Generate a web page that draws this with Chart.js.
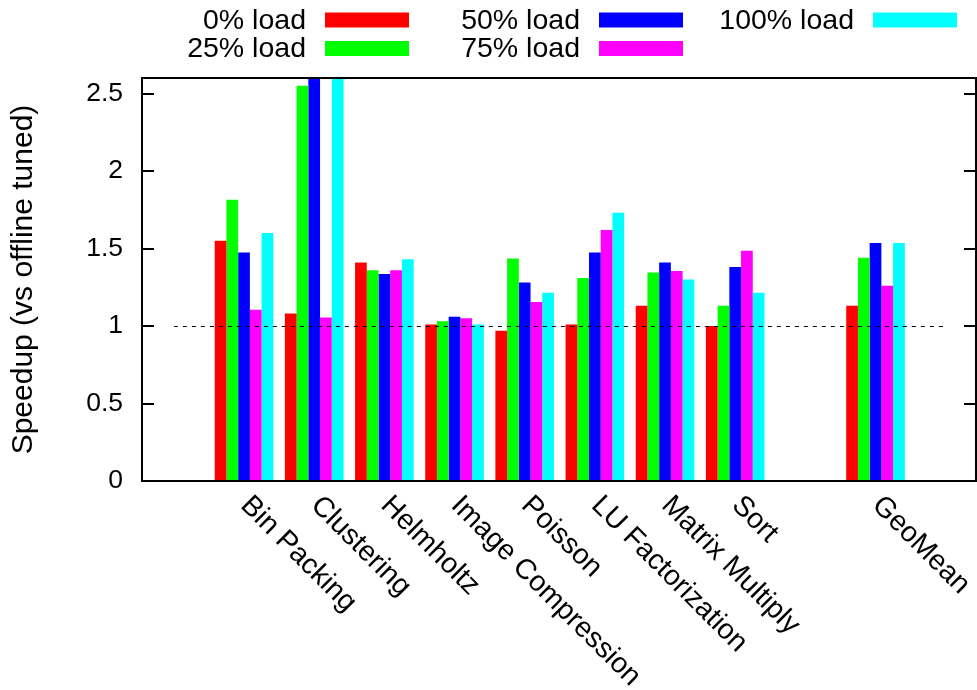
<!DOCTYPE html>
<html>
<head>
<meta charset="utf-8">
<script src="https://cdn.jsdelivr.net/npm/chart.js@4.4.1/dist/chart.umd.min.js"></script>
<style>
  html, body { margin: 0; padding: 0; background: #fff; }
  canvas { display: block; }
</style>
</head>
<body>
<canvas id="myChart" width="977" height="690" style="width:977px;height:690px"></canvas>
<script>
// benchmark names, '' is the spacer slot before GeoMean
const categories = ['Bin Packing', 'Clustering', 'Helmholtz', 'Image Compression', 'Poisson',
  'LU Factorization', 'Matrix Multiply', 'Sort', '', 'GeoMean'];
const seriesNames = ['0% load', '25% load', '50% load', '75% load', '100% load'];
const load0   = [1.55, 1.08, 1.41, 1.01, 0.97, 1.01, 1.13, 1.00, null, 1.13];
const load25  = [1.815, 2.55, 1.36, 1.03, 1.435, 1.31, 1.345, 1.13, null, 1.44];
const load50  = [1.475, 2.8, 1.335, 1.06, 1.28, 1.475, 1.41, 1.38, null, 1.535];
const load75  = [1.105, 1.055, 1.36, 1.05, 1.155, 1.62, 1.355, 1.485, null, 1.26];
const load100 = [1.6, 2.9, 1.43, 1.01, 1.215, 1.73, 1.30, 1.215, null, 1.535];
const yTicks = [0, 0.5, 1, 1.5, 2, 2.5];
const yTickLabels = ['0', '0.5', '1', '1.5', '2', '2.5'];
const baseline = 1;

const colors = ['#ff0000', '#00ff00', '#0000ff', '#ff00ff', '#00ffff'];
const FONT = '"Liberation Sans", Arial, Helvetica, sans-serif';

const toPoints = arr => arr.map((v, i) => ({ x: i, y: v })).filter(p => p.y !== null);

const gnuplotLook = {
  id: 'gnuplotLook',
  afterDatasetsDraw(chart) {
    const { ctx, chartArea: a, scales: { x, y } } = chart;
    ctx.save();

    // dashed reference line at speedup 1
    ctx.strokeStyle = '#000';
    ctx.lineWidth = 1.2;
    ctx.setLineDash([4, 5]);
    ctx.beginPath();
    const by = Math.round(y.getPixelForValue(baseline)) + 0.5;
    ctx.moveTo(x.getPixelForValue(-1), by);
    ctx.lineTo(x.getPixelForValue(categories.length), by);
    ctx.stroke();
    ctx.setLineDash([]);

    // frame
    ctx.lineWidth = 2;
    ctx.strokeRect(a.left, a.top, a.right - a.left, a.bottom - a.top);

    // inward ticks on both sides
    yTicks.forEach(v => {
      const py = Math.round(y.getPixelForValue(v));
      ctx.beginPath();
      ctx.moveTo(a.left, py); ctx.lineTo(a.left + 12, py);
      ctx.moveTo(a.right, py); ctx.lineTo(a.right - 12, py);
      ctx.stroke();
    });

    // rotated category labels
    ctx.fillStyle = '#000';
    ctx.font = '28.5px ' + FONT;
    ctx.textAlign = 'left';
    ctx.textBaseline = 'middle';
    categories.forEach((c, i) => {
      if (!c) return;
      ctx.save();
      ctx.translate(x.getPixelForValue(i) + 1, a.bottom + 20);
      ctx.rotate(Math.PI / 4);
      ctx.fillText(c, 0, 0);
      ctx.restore();
    });

    // key: text then sample box, two rows
    ctx.textAlign = 'right';
    chart.data.datasets.forEach((ds, i) => {
      const col = Math.floor(i / 2), row = i % 2;
      const tx = 306 + col * 274;
      const cy = 20 + row * 28.5;
      ctx.fillStyle = '#000';
      ctx.fillText(ds.label, tx, cy + 1);
      ctx.fillStyle = ds.backgroundColor;
      ctx.fillRect(tx + 19, cy - 7.5, 84, 15);
    });
    ctx.restore();
  }
};

new Chart(document.getElementById('myChart').getContext('2d'), {
  type: 'bar',
  data: {
    datasets: [load0, load25, load50, load75, load100].map((arr, i) => ({
      label: seriesNames[i],
      data: toPoints(arr),
      backgroundColor: colors[i],
      borderWidth: 0,
      categoryPercentage: 0.835,
      barPercentage: 1.0
    }))
  },
  options: {
    responsive: false,
    devicePixelRatio: 1,
    animation: false,
    layout: { padding: { top: 78, right: 1, left: 0, bottom: 0 } },
    plugins: { legend: { display: false }, tooltip: { enabled: false } },
    scales: {
      x: {
        type: 'linear',
        offset: false,
        min: -1.454,
        max: 10.432,
        grid: { display: false, drawTicks: false, offset: false },
        border: { display: false },
        ticks: { display: false },
        afterFit(scale) { scale.height = 209; }
      },
      y: {
        min: 0,
        max: 2.6,
        grid: { display: false, drawTicks: false },
        border: { display: false },
        afterBuildTicks(scale) { scale.ticks = yTicks.map(v => ({ value: v })); },
        ticks: {
          padding: 19,
          color: '#000',
          font: { family: FONT, size: 26.5 },
          callback: (v, i) => yTickLabels[i]
        },
        title: {
          display: true,
          text: 'Speedup (vs offline tuned)',
          color: '#000',
          font: { family: FONT, size: 30 },
          padding: { top: 6, bottom: 0 }
        },
        afterFit(scale) { scale.width = 142; }
      }
    }
  },
  plugins: [gnuplotLook]
});
</script>
</body>
</html>
